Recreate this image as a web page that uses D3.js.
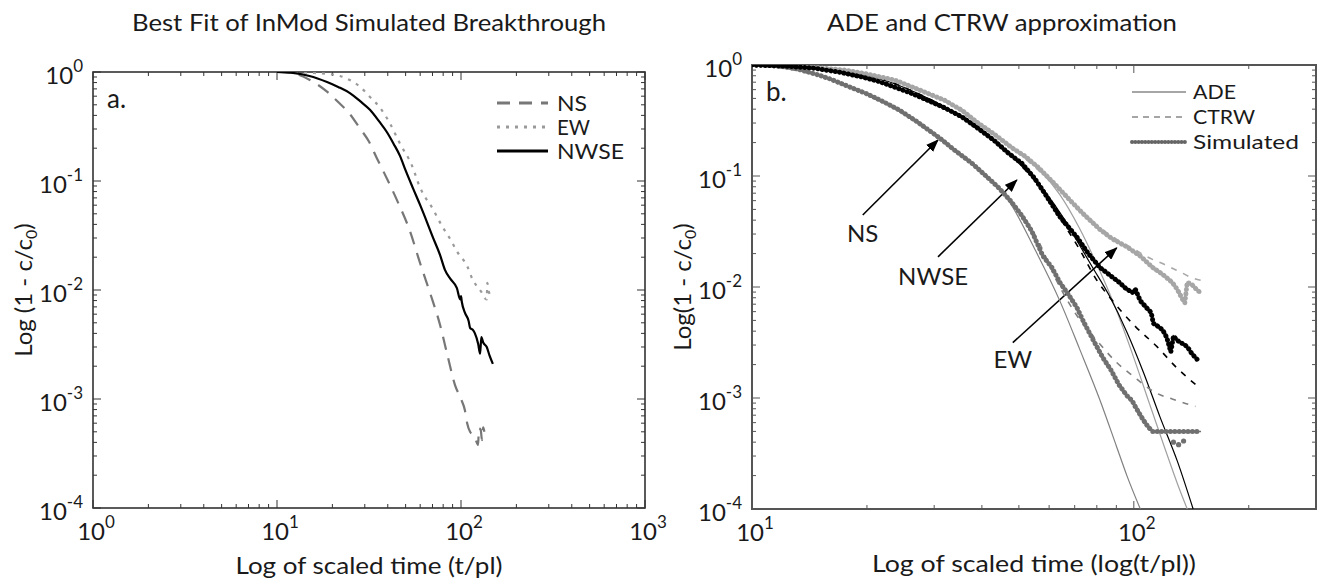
<!DOCTYPE html>
<html><head><meta charset="utf-8">
<script src="https://cdn.jsdelivr.net/npm/d3@7"></script>
<style>
body{margin:0;background:#fff}
svg{display:block}
text{font-family:Lato,"Open Sans",sans-serif;fill:#1a1a1a}
</style></head>
<body><svg id="c" width="1324" height="580"></svg>
<script>
// ---------- Panel a: best fit curves ----------
const nsA_t   = [10,11.5,13.2,15,18.7,21.5,24.9,28,31.6,35,38.1,45,52.7,59.9,67.9,76.9,85,92.7,100,105,108,112,118,124,125,128,130,132,134];
const nsA_v   = [1,0.99,0.94,0.85,0.66,0.53,0.41,0.31,0.23,0.16,0.12,0.066,0.035,0.0177,0.0094,0.0048,0.0024,0.00135,0.001,0.00079,0.0006,0.0005,0.00046,0.00038,0.00054,0.00052,0.00042,0.00055,0.0005];
const ewA_t   = [10,13,16,19,22,25,28.3,32,36.3,41,46.6,54,59.9,70.5,78.6,86.7,96,108,116,124,130,134,138,139,142,146,149];
const ewA_v   = [1,0.995,0.98,0.96,0.92,0.84,0.73,0.59,0.47,0.34,0.22,0.14,0.087,0.055,0.039,0.030,0.022,0.0166,0.0123,0.0105,0.0094,0.0085,0.0082,0.0116,0.0095,0.0088,0.0086];
const nwseA_t = [10,12.2,15,18.7,21.5,24.9,28.3,32,36,39.6,43,46.6,50,54.8,60,65.3,70,76.9,81.8,88,95,99,100,101,105,110,112,116,119,124,127,129,132,138,143,149];
const nwseA_v = [1,0.98,0.92,0.81,0.73,0.64,0.54,0.45,0.35,0.28,0.22,0.17,0.125,0.086,0.06,0.042,0.031,0.021,0.0153,0.0125,0.0104,0.0082,0.0088,0.0078,0.0062,0.0052,0.0045,0.0043,0.0040,0.0032,0.0026,0.0037,0.0033,0.0030,0.0025,0.0021];
const legendA = ["NS","EW","NWSE"];

// ---------- Panel b: ADE / CTRW vs simulated ----------
const nsSim_t = [10,11,12,13,14.8,16,18.1,20,22,24.4,27,31,34,37.7,41,44,47.5,50.9,54,57.8,61,64,67.5,71,74,78,83,87,91.6,95.9,98.9,101,104,106,109,112,118,125,130,137,140,145,150];
const nsSim_v = [1,0.99,0.97,0.93,0.82,0.75,0.63,0.55,0.47,0.39,0.31,0.22,0.17,0.13,0.1,0.08,0.06,0.044,0.032,0.019,0.015,0.011,0.0085,0.0065,0.0048,0.0034,0.0023,0.0018,0.0013,0.00105,0.00095,0.00083,0.0007,0.00063,0.00055,0.0005,0.0005,0.0005,0.0005,0.0005,0.0005,0.0005,0.0005];
const nsOut_t = [127,131,135];
const nsOut_v = [0.0004,0.00038,0.00041];
const nsAde_t = [10,15,20,25,30,35,40,47.3,55,64,72,81.5,90,95.9,104];
const nsAde_v = [1,0.8,0.55,0.36,0.24,0.16,0.11,0.058,0.022,0.0075,0.0028,0.00096,0.00037,0.0002,0.0001];
const nsCtrw_t = [10,15,20,25,30,35,40,47.5,55,64,71,80,90,99,115,126,140,145];
const nsCtrw_v = [1,0.8,0.55,0.36,0.24,0.16,0.11,0.06,0.03,0.01,0.0055,0.0033,0.0021,0.0016,0.0011,0.00098,0.00087,0.00084];

const nwSim_t = [10,12,14.4,17,19.4,21.5,23.7,26,28.9,32,35.5,39,43,47,50.9,55,58.4,64,71,76,81.5,86,91.6,95,99,101,104,108,111,112.5,116,119,122,125,127,130,134,138,142,147];
const nwSim_v = [1,0.98,0.94,0.86,0.78,0.71,0.63,0.56,0.48,0.41,0.34,0.27,0.21,0.16,0.13,0.095,0.07,0.043,0.028,0.02,0.015,0.013,0.011,0.0098,0.0089,0.0095,0.0075,0.0065,0.0059,0.0047,0.0044,0.0041,0.0035,0.0026,0.0036,0.0033,0.0031,0.0029,0.0025,0.0022];
const nwAde_t = [10,20,30,40,50,58,66,72,78,86,96,106,117,130,143];
const nwAde_v = [1,0.8,0.47,0.26,0.13,0.075,0.04,0.024,0.015,0.0085,0.0039,0.0017,0.00068,0.00027,0.0001];
const nwCtrw_t = [10,20,30,40,50,58,64,72,80,88,101,115,129,146];
const nwCtrw_v = [1,0.8,0.47,0.26,0.13,0.072,0.042,0.022,0.0115,0.0075,0.0044,0.0029,0.0019,0.0013];

const ewSim_t = [10,12,14,17.5,20,23.7,27,32,35.5,39.1,43,47.9,52,56.1,62,67.9,74,81.5,88,95.9,104,112,119,126,130,134,136,138,142,146,150];
const ewSim_v = [1,0.99,0.96,0.9,0.83,0.73,0.61,0.48,0.39,0.30,0.24,0.18,0.15,0.12,0.085,0.061,0.045,0.033,0.027,0.023,0.019,0.015,0.013,0.011,0.0095,0.0078,0.0072,0.011,0.0105,0.0095,0.0088];
const ewAde_t = [10,20,30,40,50,57,64,72,80,90,100,110,120,130,138];
const ewAde_v = [1,0.83,0.53,0.29,0.16,0.11,0.068,0.034,0.016,0.0062,0.0023,0.00088,0.00037,0.00017,0.0001];
const ewCtrw_t = [10,20,30,40,50,60,70,80,90,100,108,120,132,143,150];
const ewCtrw_v = [1,0.83,0.53,0.29,0.16,0.092,0.055,0.036,0.027,0.022,0.0188,0.016,0.0137,0.012,0.0115];

const legendB = ["ADE","CTRW","Simulated"];
const annText = ["NS","NWSE","EW"];
const annTailT = [19.5,30.7,48.2], annTailV = [0.0445,0.0187,0.00315];
const annTipT  = [30.7,49.4,90.2], annTipV  = [0.211,0.092,0.0225];
const annLabT  = [19.5,29.8,48.2], annLabV  = [0.0254,0.0104,0.00188];

const titles = ["Best Fit of InMod Simulated Breakthrough","ADE and CTRW approximation"];
const xTitles = ["Log of scaled time (t/pl)","Log of scaled time (log(t/pl))"];

// ---------- drawing ----------
const svg = d3.select("#c");
const pts = (t,v)=>d3.zip(t,v).map(([a,b])=>({t:a,v:b}));
const isMajor = v => Math.abs(Math.log10(v)-Math.round(Math.log10(v)))<1e-9;

const defs = svg.append("defs");
defs.append("marker").attr("id","arr").attr("markerUnits","userSpaceOnUse")
  .attr("markerWidth",14).attr("markerHeight",10).attr("refX",12).attr("refY",5).attr("orient","auto")
  .append("path").attr("d","M0,0 L13,5 L0,10 Z").attr("fill","#000");

function panel(cfg){
  const {x,y,id} = cfg;
  const [x0,x1] = x.range(), [y1,y0] = y.range();
  defs.append("clipPath").attr("id",id).append("rect").attr("x",x0).attr("y",y0).attr("width",x1-x0).attr("height",y1-y0);
  const g = svg.append("g");
  const xt = x.ticks(), yt = y.ticks();
  const tg = g.append("g").attr("stroke",cfg.axisColor).attr("stroke-width",1);
  xt.forEach(v=>{ const L=isMajor(v)?8:4, px=x(v);
    tg.append("line").attr("x1",px).attr("x2",px).attr("y1",y1).attr("y2",y1-L);
    tg.append("line").attr("x1",px).attr("x2",px).attr("y1",y0).attr("y2",y0+L);});
  yt.forEach(v=>{ const L=isMajor(v)?8:4, py=y(v);
    tg.append("line").attr("y1",py).attr("y2",py).attr("x1",x0).attr("x2",x0+L);
    tg.append("line").attr("y1",py).attr("y2",py).attr("x1",x1).attr("x2",x1-L);});
  xt.filter(isMajor).forEach(v=>{
    const t = g.append("text").attr("x",x(v)+3).attr("y",y1+32).attr("text-anchor","middle").style("font-size","24px");
    t.append("tspan").text("10");
    t.append("tspan").attr("dy",-12).style("font-size","17px").text(Math.round(Math.log10(v)));
  });
  yt.filter(isMajor).forEach(v=>{
    const t = g.append("text").attr("x",x0-10).attr("y",y(v)+12).attr("text-anchor","end").style("font-size","24px");
    t.append("tspan").text("10");
    t.append("tspan").attr("dy",-12).style("font-size","17px").text(Math.round(Math.log10(v)));
  });
  g.append("rect").attr("x",x0).attr("y",y0).attr("width",x1-x0).attr("height",y1-y0)
    .attr("fill","none").attr("stroke",cfg.axisColor).attr("stroke-width",cfg.boxWidth);
  g.append("text").attr("x",cfg.titleX).attr("y",31).attr("text-anchor","middle").style("font-size","24px")
    .attr("textLength",cfg.titleLen).attr("lengthAdjust","spacingAndGlyphs").text(cfg.title);
  g.append("text").attr("x",(x0+x1)/2).attr("y",cfg.xtY).attr("text-anchor","middle").style("font-size","24px")
    .attr("textLength",cfg.xtLen).attr("lengthAdjust","spacingAndGlyphs").text(cfg.xTitle);
  const yl = g.append("text").attr("transform",`translate(${cfg.ylX},${(y0+y1)/2}) rotate(-90)`)
    .attr("text-anchor","middle").style("font-size","24px");
  yl.append("tspan").text(cfg.yPre);
  yl.append("tspan").attr("dy",5).style("font-size","16px").text("0");
  yl.append("tspan").attr("dy",-5).text(")");
  g.append("text").attr("x",x0+14).attr("y",y0+36).style("font-size","26px").text(cfg.tag);
  const dg = svg.append("g").attr("clip-path",`url(#${id})`);
  return {g, dg};
}

// Panel a
const xA = d3.scaleLog().domain([1,1000]).range([93,645]);
const yA = d3.scaleLog().domain([1e-4,1]).range([508,72]);
const A = panel({x:xA,y:yA,id:"cpA",axisColor:"#333",boxWidth:1.6,title:titles[0],titleX:369,titleLen:474,
  xTitle:xTitles[0],xtY:574,xtLen:267,ylX:32,yPre:"Log (1 - c/c",tag:"a."});
const lineA = d3.line().x(d=>xA(d.t)).y(d=>yA(d.v)).curve(d3.curveMonotoneX);
const stylesA = [
  {t:nsA_t,v:nsA_v,c:"#777",w:2.2,d:"13 9"},
  {t:ewA_t,v:ewA_v,c:"#9a9a9a",w:2.2,d:"3 6"},
  {t:nwseA_t,v:nwseA_v,c:"#000",w:2.2,d:null}];
stylesA.forEach(s=>{
  A.dg.append("path").attr("d",lineA(pts(s.t,s.v))).attr("fill","none").attr("stroke",s.c)
    .attr("stroke-width",s.w).attr("stroke-dasharray",s.d);
});
legendA.forEach((name,i)=>{
  const s = stylesA[i], ly = [103,127,151][i];
  A.g.append("line").attr("x1",497).attr("x2",548).attr("y1",ly).attr("y2",ly).attr("stroke",s.c)
    .attr("stroke-width",s.w+0.6).attr("stroke-dasharray",s.d);
  A.g.append("text").attr("x",557).attr("y",ly+8).style("font-size","21px")
    .attr("textLength",[30,33,67][i]).attr("lengthAdjust","spacingAndGlyphs").text(name);
});

// Panel b
const xB = d3.scaleLog().domain([10,300]).range([752,1316]);
const yB = d3.scaleLog().domain([1e-4,1]).range([509,65]);
const B = panel({x:xB,y:yB,id:"cpB",axisColor:"#555",boxWidth:2,title:titles[1],titleX:1002,titleLen:350,
  xTitle:xTitles[1],xtY:572,xtLen:324,ylX:691,yPre:"Log(1 - c/c",tag:"b."});
const lineB = d3.line().x(d=>xB(d.t)).y(d=>yB(d.v)).curve(d3.curveMonotoneX);
const lineBl = d3.line().x(d=>xB(d.t)).y(d=>yB(d.v));
const models = [
  {t:nsAde_t,v:nsAde_v,c:"#808080",w:1.2,d:null},
  {t:ewAde_t,v:ewAde_v,c:"#a0a0a0",w:1.2,d:null},
  {t:nwAde_t,v:nwAde_v,c:"#000",w:1.2,d:null},
  {t:nsCtrw_t,v:nsCtrw_v,c:"#808080",w:1.6,d:"6 7"},
  {t:ewCtrw_t,v:ewCtrw_v,c:"#a8a8a8",w:1.6,d:"6 7"},
  {t:nwCtrw_t,v:nwCtrw_v,c:"#000",w:1.6,d:"6 7"}];
models.forEach(s=>{
  B.dg.append("path").attr("d",lineB(pts(s.t,s.v))).attr("fill","none").attr("stroke",s.c)
    .attr("stroke-width",s.w).attr("stroke-dasharray",s.d);
});
const sims = [
  {t:ewSim_t,v:ewSim_v,c:"#a6a6a6"},
  {t:nsSim_t,v:nsSim_v,c:"#707070"},
  {t:nwSim_t,v:nwSim_v,c:"#000"}];
sims.forEach(s=>{
  const d = lineBl(pts(s.t,s.v));
  B.dg.append("path").attr("d",d).attr("fill","none").attr("stroke",s.c).attr("stroke-width",1.5);
  B.dg.append("path").attr("d",d).attr("fill","none").attr("stroke",s.c).attr("stroke-width",5)
    .attr("stroke-linecap","round").attr("stroke-dasharray","0.1 4.3");
});
B.dg.selectAll("circle.out").data(pts(nsOut_t,nsOut_v)).join("circle")
  .attr("cx",d=>xB(d.t)).attr("cy",d=>yB(d.v)).attr("r",2.6).attr("fill","#707070");

const legStyles = [{c:"#888",w:1.5,d:null,lc:"butt"},{c:"#888",w:1.5,d:"6 5",lc:"butt"},{c:"#666",w:4,d:"0.1 3.2",lc:"round"}];
legendB.forEach((name,i)=>{
  const s = legStyles[i], ly = [92,117,142][i];
  B.g.append("line").attr("x1",1132).attr("x2",1186).attr("y1",ly).attr("y2",ly).attr("stroke",s.c)
    .attr("stroke-width",s.w).attr("stroke-dasharray",s.d).attr("stroke-linecap",s.lc);
  B.g.append("text").attr("x",1193).attr("y",ly+7).style("font-size","20px")
    .attr("textLength",[43,62,106][i]).attr("lengthAdjust","spacingAndGlyphs").text(name);
});

annText.forEach((txt,i)=>{
  B.g.append("line").attr("x1",xB(annTailT[i])).attr("y1",yB(annTailV[i]))
    .attr("x2",xB(annTipT[i])).attr("y2",yB(annTipV[i])).attr("stroke","#000").attr("stroke-width",1.6)
    .attr("marker-end","url(#arr)");
  B.g.append("text").attr("x",xB(annLabT[i])).attr("y",yB(annLabV[i])).attr("text-anchor","middle")
    .style("font-size","24px").text(txt);
});
</script></body></html>
